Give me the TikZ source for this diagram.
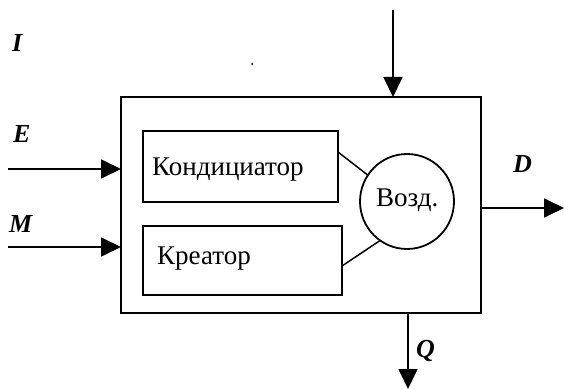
\documentclass[tikz,border=0pt]{standalone}
\usepackage{fontspec}
\setmainfont{Liberation Serif}
\usetikzlibrary{arrows.meta,shapes.geometric}
\begin{document}
\begin{tikzpicture}[x=1pt,y=-1pt,
  box/.style={draw,line width=1.8pt,inner sep=0pt},
  flow/.style={line width=1.8pt,-{Triangle[length=20pt,width=19pt]}},
  link/.style={line width=1.5pt},
  lbl/.style={font=\fontsize{27}{29}\selectfont,inner sep=0pt},
  var/.style={font=\fontsize{26}{28}\selectfont\bfseries\itshape,inner sep=0pt}]
\useasboundingbox (0,0) rectangle (565,390);
\fill[white] (0,0) rectangle (565,390);
% outer box
\node[box,minimum width=360pt,minimum height=216pt] (outer) at (301,205) {};
% inner boxes
\node[box,minimum width=195pt,minimum height=71pt] (kond) at (240.5,166.5) {};
\node[box,minimum width=199pt,minimum height=69pt] (krea) at (242.5,260.5) {};
\node[draw,line width=1.8pt,ellipse,minimum width=94pt,minimum height=95pt,inner sep=0pt] (vozd) at (407,201.5) {};
\node[lbl,anchor=base west] (tk) at (152,176) {Кондициатор};
\node[lbl,anchor=base west] (tr) at (157,265) {Креатор};
\node[lbl,anchor=base west] (tv) at (376,207) {Возд.};
% links
\coordinate (k1) at (338,152);
\coordinate (k2) at (342,266);
\draw[link] (k1) -- (vozd.146);
\draw[link] (k2) -- (vozd.235);
% coordinates for arrows
\coordinate (iS) at (393,10);
\coordinate (iE) at (393,97);
\coordinate (eS) at (8,169);
\coordinate (eE) at (121,169);
\coordinate (mS) at (8,247);
\coordinate (mE) at (121,247);
\coordinate (dS) at (481,208);
\coordinate (dE) at (564,208);
\coordinate (qS) at (408,313);
\coordinate (qE) at (408,389);
\draw[flow] (iS) -- (iE);
\draw[flow] (eS) -- (eE);
\draw[flow] (mS) -- (mE);
\draw[flow] (dS) -- (dE);
\draw[flow] (qS) -- (qE);
% labels
\node[var,anchor=base west] (li) at (12,52) {I};
\node[var,anchor=base west] (le) at (13,143) {E};
\node[var,anchor=base west] (lm) at (9,233) {M};
\node[var,anchor=base west] (ld) at (513,173) {D};
\node[var,anchor=base west] (lq) at (416,357) {Q};
\fill (252,64) circle (1pt);
\end{tikzpicture}
\end{document}
